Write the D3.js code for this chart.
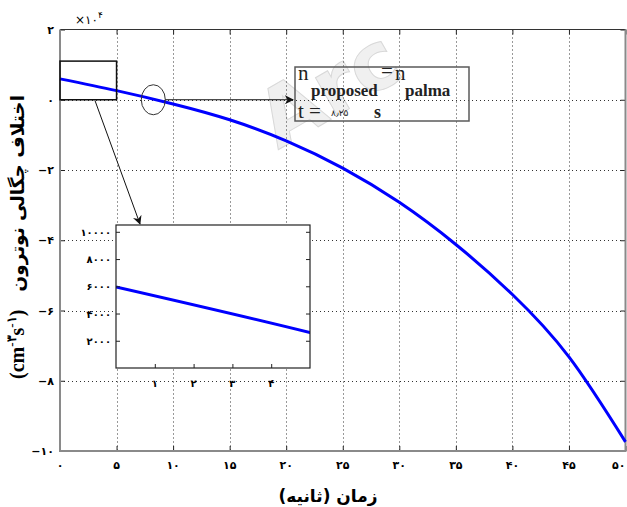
<!DOCTYPE html>
<html>
<head>
<meta charset="utf-8">
<script src="https://cdn.jsdelivr.net/npm/d3@7"></script>
<style>
body { margin: 0; background: #fff; }
svg { display: block; }
.fa { font-family: "DejaVu Sans", sans-serif; }
.serif { font-family: "Liberation Serif", "Times New Roman", serif; }
</style>
</head>
<body>
<script>
// time (s) and neutron density difference (cm^-3 s^-1)
var timeSec = [0, 5, 10, 15, 20, 25, 30, 35, 40, 45, 50]
var densityDiff = [5950, 2600, -1200, -5700, -11700, -19450, -29200, -41200, -55450, -73200, -97400]

var xTicks = [0, 5, 10, 15, 20, 25, 30, 35, 40, 45, 50]
var yTicks = [-100000, -80000, -60000, -40000, -20000, 0, 20000]
var insetXTicks = [1, 2, 3, 4]
var insetYTicks = [2000, 4000, 6000, 8000, 10000]
var zeroCrossing = 8.25

var data = timeSec.map(function (t, i) { return {t: t, v: densityDiff[i]} })

var faDigits = '۰۱۲۳۴۵۶۷۸۹'
function fa (n) {
  return String(n).replace(/\d/g, function (d) { return faDigits[d] }).replace('-', '−')
}

var W = 627
var H = 507
var margin = {top: 29.5, right: 1.5, bottom: 56, left: 60}
var width = W - margin.left - margin.right
var height = H - margin.top - margin.bottom

var svg = d3.select('body').append('svg')
  .attr('width', W)
  .attr('height', H)

var defs = svg.append('defs')
defs.append('marker')
  .attr('id', 'head')
  .attr('viewBox', '0 0 10 10')
  .attr('refX', 9)
  .attr('refY', 5)
  .attr('markerWidth', 9)
  .attr('markerHeight', 9)
  .attr('markerUnits', 'userSpaceOnUse')
  .attr('orient', 'auto')
  .append('path')
  .attr('d', 'M0,0 L10,5 L0,10 L3,5 Z')
  .attr('fill', '#111')

var x = d3.scaleLinear().domain([0, 50]).range([margin.left, margin.left + width])
var y = d3.scaleLinear().domain([-100000, 20000]).range([margin.top + height, margin.top])

// watermark
svg.append('text')
  .attr('transform', 'translate(278,150) rotate(-30)')
  .attr('font-family', 'DejaVu Sans')
  .attr('font-weight', 'bold')
  .attr('font-size', 80)
  .attr('fill', '#f0f0f0')
  .attr('stroke', '#d8d8d8')
  .attr('stroke-width', 1)
  .text('Arc')

// grid
var grid = svg.append('g')
  .attr('stroke', '#333')
  .attr('stroke-width', 1)
  .attr('stroke-dasharray', '1,3')
grid.selectAll('.gx')
  .data(xTicks.slice(1, -1))
  .enter().append('line')
  .attr('x1', function (d) { return Math.round(x(d)) + 0.5 })
  .attr('x2', function (d) { return Math.round(x(d)) + 0.5 })
  .attr('y1', margin.top)
  .attr('y2', margin.top + height)
grid.selectAll('.gy')
  .data(yTicks.slice(1, -1))
  .enter().append('line')
  .attr('y1', function (d) { return Math.round(y(d)) + 0.5 })
  .attr('y2', function (d) { return Math.round(y(d)) + 0.5 })
  .attr('x1', margin.left)
  .attr('x2', margin.left + width)

// axes frame
var xAxis = d3.axisBottom(x).tickValues(xTicks).tickSize(-5).tickFormat('')
var yAxis = d3.axisLeft(y).tickValues(yTicks).tickSize(-5).tickFormat('')
svg.append('g')
  .attr('transform', 'translate(0,' + (margin.top + height) + ')')
  .call(xAxis)
  .call(function (g) { g.select('.domain').remove() })
  .selectAll('line').attr('stroke', '#222')
svg.append('g')
  .attr('transform', 'translate(0,' + margin.top + ')')
  .call(d3.axisTop(x).tickValues(xTicks).tickSize(-5).tickFormat(''))
  .call(function (g) { g.select('.domain').remove() })
  .selectAll('line').attr('stroke', '#222')
svg.append('g')
  .attr('transform', 'translate(' + margin.left + ',0)')
  .call(yAxis)
  .call(function (g) { g.select('.domain').remove() })
  .selectAll('line').attr('stroke', '#222')
svg.append('g')
  .attr('transform', 'translate(' + (margin.left + width) + ',0)')
  .call(d3.axisRight(y).tickValues(yTicks).tickSize(-5).tickFormat(''))
  .call(function (g) { g.select('.domain').remove() })
  .selectAll('line').attr('stroke', '#222')

svg.append('line')
  .attr('x1', margin.left).attr('x2', margin.left + width)
  .attr('y1', margin.top).attr('y2', margin.top)
  .attr('stroke', '#333').attr('stroke-width', 1.2)
svg.append('path')
  .attr('d', 'M' + margin.left + ',' + margin.top + 'V' + (margin.top + height) + 'H' + (margin.left + width) + 'V' + margin.top)
  .attr('fill', 'none')
  .attr('stroke', '#8a8a8a')
  .attr('stroke-width', 2)

// tick labels
svg.append('g').attr('class', 'fa')
  .selectAll('text')
  .data(xTicks)
  .enter().append('text')
  .attr('x', function (d) { return x(d) })
  .attr('y', 469)
  .attr('text-anchor', function (d, i) { return i === xTicks.length - 1 ? 'end' : 'middle' })
  .attr('font-size', 11)
  .attr('font-weight', 'bold')
  .text(function (d) { return fa(d) })

svg.append('g').attr('class', 'fa')
  .selectAll('text')
  .data(yTicks)
  .enter().append('text')
  .attr('x', 54)
  .attr('y', function (d) { return y(d) + 4 })
  .attr('text-anchor', 'end')
  .attr('font-size', 11)
  .attr('font-weight', 'bold')
  .text(function (d) { return fa(d / 10000) })

var expo = svg.append('text').attr('class', 'fa')
  .attr('x', 75)
  .attr('y', 24)
  .attr('font-size', 12)
expo.append('tspan').text('×' + fa(10))
expo.append('tspan').attr('dy', -6).attr('font-size', 9).text(fa(4))

// main curve
var line = d3.line()
  .x(function (d) { return x(d.t) })
  .y(function (d) { return y(d.v) })
  .curve(d3.curveNatural)

svg.append('path')
  .datum(data)
  .attr('d', line)
  .attr('fill', 'none')
  .attr('stroke', '#0000ff')
  .attr('stroke-width', 3)

// zoom box on the main plot
svg.append('rect')
  .attr('x', x(0))
  .attr('y', y(11000))
  .attr('width', x(5) - x(0))
  .attr('height', y(0) - y(11000))
  .attr('fill', 'none')
  .attr('stroke', '#111')
  .attr('stroke-width', 1.5)

// ellipse and arrow to annotation
svg.append('ellipse')
  .attr('cx', x(zeroCrossing))
  .attr('cy', y(0))
  .attr('rx', 12)
  .attr('ry', 15)
  .attr('fill', 'none')
  .attr('stroke', '#333')
  .attr('stroke-width', 1)

svg.append('line')
  .attr('x1', x(zeroCrossing) + 12)
  .attr('y1', y(0))
  .attr('x2', 293)
  .attr('y2', y(0))
  .attr('stroke', '#111')
  .attr('stroke-width', 1)
  .attr('marker-end', 'url(#head)')

// annotation box
svg.append('rect')
  .attr('x', 295).attr('y', 67)
  .attr('width', 174).attr('height', 54)
  .attr('fill', 'none')
  .attr('stroke', '#5a5a5a')
  .attr('stroke-width', 1.5)

var ann = svg.append('g').attr('class', 'serif').attr('fill', '#222')
ann.append('text').attr('x', 298).attr('y', 80).attr('font-size', 21).text('n')
ann.append('text').attr('x', 311).attr('y', 96).attr('font-size', 17).attr('font-weight', 'bold').text('proposed')
ann.append('text').attr('x', 381).attr('y', 78).attr('font-size', 21).text('=')
ann.append('text').attr('x', 395).attr('y', 80).attr('font-size', 21).text('n')
ann.append('text').attr('x', 405).attr('y', 96).attr('font-size', 17).attr('font-weight', 'bold').text('palma')
ann.append('text').attr('x', 298).attr('y', 118).attr('font-size', 21).text('t =')
ann.append('text').attr('class', 'fa').attr('x', 331).attr('y', 116).attr('font-size', 9).text(fa(8) + '٫' + fa(25))
ann.append('text').attr('x', 374).attr('y', 118).attr('font-size', 18).attr('font-weight', 'bold').text('s')

// inset
var inset = {x: 116, y: 225, w: 194, h: 143}
var xi = d3.scaleLinear().domain([0, 5]).range([inset.x, inset.x + inset.w])
var yi = d3.scaleLinear().domain([0, 10500]).range([inset.y + inset.h, inset.y])

svg.append('line')
  .attr('x1', x(3.1))
  .attr('y1', y(0) + 1)
  .attr('x2', 140)
  .attr('y2', inset.y - 1)
  .attr('stroke', '#111')
  .attr('stroke-width', 1)
  .attr('marker-end', 'url(#head)')

svg.append('rect')
  .attr('x', inset.x).attr('y', inset.y)
  .attr('width', inset.w).attr('height', inset.h)
  .attr('fill', '#fff')

defs.append('clipPath').attr('id', 'insetClip')
  .append('rect')
  .attr('x', inset.x).attr('y', inset.y)
  .attr('width', inset.w).attr('height', inset.h)

var lineInset = d3.line()
  .x(function (d) { return xi(d.t) })
  .y(function (d) { return yi(d.v) })
  .curve(d3.curveNatural)

svg.append('path')
  .datum(data)
  .attr('d', lineInset)
  .attr('clip-path', 'url(#insetClip)')
  .attr('fill', 'none')
  .attr('stroke', '#0000ff')
  .attr('stroke-width', 3)

svg.append('g')
  .attr('transform', 'translate(0,' + (inset.y + inset.h) + ')')
  .call(d3.axisBottom(xi).tickValues(insetXTicks).tickSize(-4).tickFormat(''))
  .call(function (g) { g.select('.domain').remove() })
  .selectAll('line').attr('stroke', '#222')
svg.append('g')
  .attr('transform', 'translate(' + (inset.x + inset.w) + ',0)')
  .call(d3.axisRight(yi).tickValues(insetYTicks).tickSize(-4).tickFormat(''))
  .call(function (g) { g.select('.domain').remove() })
  .selectAll('line').attr('stroke', '#222')
svg.append('g')
  .attr('transform', 'translate(' + inset.x + ',0)')
  .call(d3.axisLeft(yi).tickValues(insetYTicks).tickSize(-4).tickFormat(''))
  .call(function (g) { g.select('.domain').remove() })
  .selectAll('line').attr('stroke', '#222')

svg.append('rect')
  .attr('x', inset.x).attr('y', inset.y)
  .attr('width', inset.w).attr('height', inset.h)
  .attr('fill', 'none')
  .attr('stroke', '#222')
  .attr('stroke-width', 1.2)

svg.append('g').attr('class', 'fa')
  .selectAll('text')
  .data(insetXTicks)
  .enter().append('text')
  .attr('x', function (d) { return xi(d) })
  .attr('y', 387)
  .attr('text-anchor', 'middle')
  .attr('font-size', 10)
  .attr('font-weight', 'bold')
  .text(function (d) { return fa(d) })

svg.append('g').attr('class', 'fa')
  .selectAll('text')
  .data(insetYTicks)
  .enter().append('text')
  .attr('x', 111)
  .attr('y', function (d) { return yi(d) + 4 })
  .attr('text-anchor', 'end')
  .attr('font-size', 10)
  .attr('font-weight', 'bold')
  .text(function (d) { return fa(d) })

// axis titles
svg.append('text').attr('class', 'fa')
  .attr('x', 328)
  .attr('y', 502)
  .attr('text-anchor', 'middle')
  .attr('font-size', 17)
  .attr('font-weight', 'bold')
  .text('زمان (ثانیه)')

var yl = svg.append('g').attr('transform', 'translate(24,0) rotate(-90)')
yl.append('text').attr('class', 'fa')
  .attr('x', -95)
  .attr('text-anchor', 'end')
  .attr('font-size', 18.5)
  .attr('font-weight', 'bold')
  .text('اختلاف چگالی نوترون')
var unit = yl.append('text').attr('class', 'serif')
  .attr('x', -379)
  .attr('font-size', 20)
  .attr('font-weight', 'bold')
unit.append('tspan').text('(cm')
unit.append('tspan').attr('dy', -8).attr('font-size', 13).text('-' + fa(3))
unit.append('tspan').attr('dy', 8).text('s')
unit.append('tspan').attr('dy', -8).attr('font-size', 13).text('-' + fa(1))
unit.append('tspan').attr('dy', 8).text(')')
</script>
</body>
</html>
